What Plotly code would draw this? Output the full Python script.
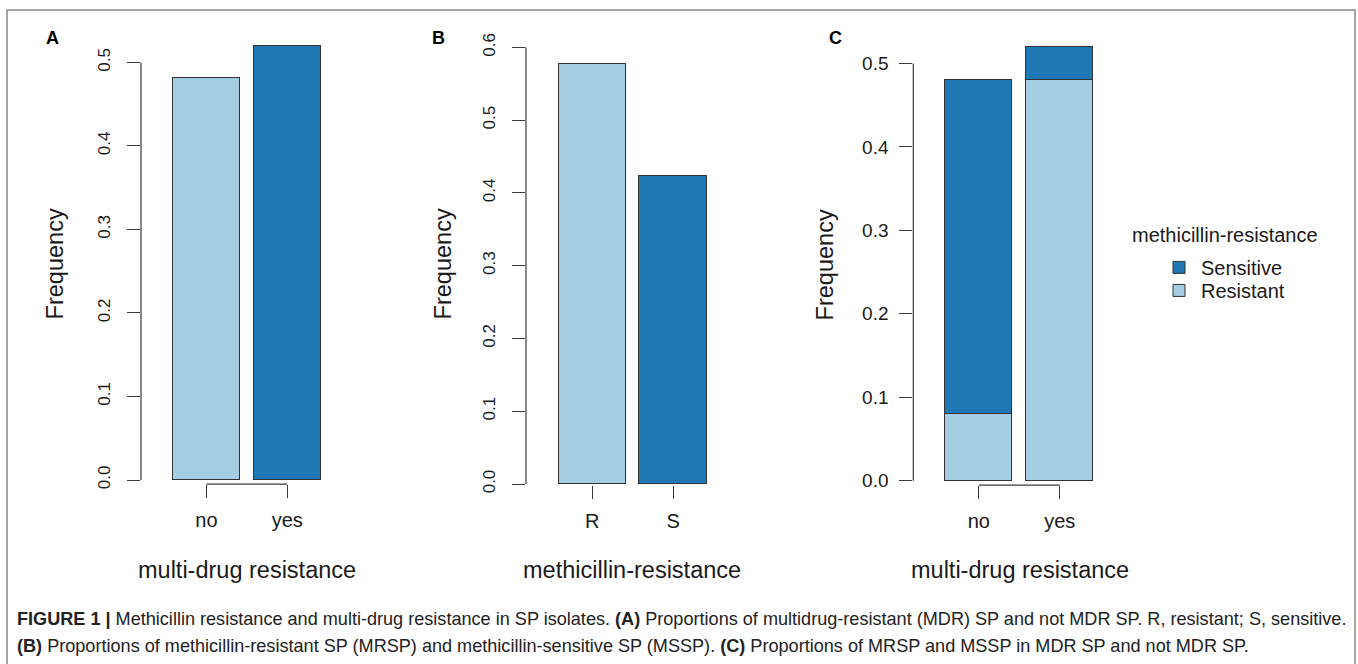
import plotly.graph_objects as go

W, H = 1358, 664          # reference picture size (design coordinates)
FIG_H = 674               # figure height used for drawing

# ---------------- data ----------------
mdr_categories = ["no", "yes"]
mdr_freq = [0.481, 0.519]

meth_categories = ["R", "S"]
meth_freq = [0.577, 0.423]

c_categories = ["no", "yes"]
c_resistant = [0.08, 0.48]
c_sensitive = [0.40, 0.04]

ticks_a = [0.0, 0.1, 0.2, 0.3, 0.4, 0.5]
ticks_b = [0.0, 0.1, 0.2, 0.3, 0.4, 0.5, 0.6]
ticks_c = [0.0, 0.1, 0.2, 0.3, 0.4, 0.5]

bar_pos = [0.7, 1.9]  # R barplot default centres (width 1, space 0.2)

LIGHT = "#A6CEE3"
DARK = "#1F78B4"
EDGE = "#333333"
AXC = "#3a3a3a"
FONT = "Liberation Sans, Arial, sans-serif"
TXT = "#1a1a1a"


def fx(p):
    return p / W


def fy(p):
    return 1 - p / H


# panel geometry (pixels)
panels = {
    "A": dict(x0=159.2, xu=67.4, y0=479.3, yu=834.0, left=141.0, right=345.0, bottom=483.3, top=20.0),
    "B": dict(x0=545.2, xu=67.3, y0=483.3, yu=726.7, left=526.0, right=730.0, bottom=483.8, top=20.0),
    "C": dict(x0=931.55, xu=67.5, y0=480.0, yu=833.3, left=913.3, right=1110.0, bottom=484.3, top=20.0),
}

fig = go.Figure()

# Panel A
fig.add_trace(go.Bar(x=bar_pos, y=mdr_freq, width=1.0, marker=dict(color=[LIGHT, DARK], line=dict(color=EDGE, width=1)),
                     showlegend=False, xaxis="x", yaxis="y", hoverinfo="skip"))
# Panel B
fig.add_trace(go.Bar(x=bar_pos, y=meth_freq, width=1.0, marker=dict(color=[LIGHT, DARK], line=dict(color=EDGE, width=1)),
                     showlegend=False, xaxis="x2", yaxis="y2", hoverinfo="skip"))
# Panel C (stacked)
fig.add_trace(go.Bar(x=bar_pos, y=c_resistant, width=1.0, name="Resistant",
                     marker=dict(color=LIGHT, line=dict(color=EDGE, width=1)),
                     xaxis="x3", yaxis="y3", hoverinfo="skip", legend="legend2"))
fig.add_trace(go.Bar(x=bar_pos, y=c_sensitive, width=1.0, name="Sensitive",
                     marker=dict(color=DARK, line=dict(color=EDGE, width=1)),
                     xaxis="x3", yaxis="y3", hoverinfo="skip", legend="legend"))

leg_common = dict(xanchor="left", yanchor="middle", font=dict(size=20, family=FONT, color=TXT),
                  bgcolor="rgba(0,0,0,0)", itemclick=False, itemdoubleclick=False, itemwidth=34)

layout = dict(
    width=W, height=FIG_H, margin=dict(l=0, r=0, t=0, b=0),
    paper_bgcolor="white", plot_bgcolor="white",
    barmode="stack", bargap=0,
    font=dict(family=FONT, color=TXT),
    showlegend=True,
    legend=dict(x=fx(1157), y=fy(267), **leg_common),
    legend2=dict(x=fx(1157), y=fy(290), **leg_common),
)

shapes = []
annotations = []
specs = [("A", "", mdr_categories, ticks_a, True, 17),
         ("B", "2", meth_categories, ticks_b, False, 17),
         ("C", "3", c_categories, ticks_c, True, 19)]

for key, sfx, cats, yt, bracket, tfs in specs:
    g = panels[key]
    xr = [(g["left"] - g["x0"]) / g["xu"], (g["right"] - g["x0"]) / g["xu"]]
    yr = [-(g["bottom"] - g["y0"]) / g["yu"], (g["y0"] - g["top"]) / g["yu"]]
    rotated = key != "C"
    layout["xaxis" + sfx] = dict(
        domain=[fx(g["left"]), fx(g["right"])], range=xr, anchor="y" + sfx,
        showgrid=False, zeroline=False, showline=False,
        tickmode="array", tickvals=bar_pos, ticktext=cats,
        ticks="outside", ticklen=13, tickwidth=1.2, tickcolor=AXC,
        tickfont=dict(size=20, family=FONT, color=TXT), ticklabelstandoff=5,
        fixedrange=True,
    )
    layout["yaxis" + sfx] = dict(
        domain=[fy(g["bottom"]), fy(g["top"])], range=yr, anchor="x" + sfx,
        showgrid=False, zeroline=False, showline=False,
        tickmode="array", tickvals=yt, ticktext=[f"{v:.1f}" for v in yt],
        ticks="outside", ticklen=13, tickwidth=1.2, tickcolor=AXC,
        tickangle=-90 if rotated else 0,
        tickfont=dict(size=tfs, family=FONT, color=TXT),
        ticklabelstandoff=10 if rotated else 7,
        fixedrange=True,
    )
    # y axis line from 0 to the last tick
    shapes.append(dict(type="line", xref="paper", yref="paper",
                       x0=fx(g["left"]), x1=fx(g["left"]),
                       y0=fy(g["y0"]), y1=fy(g["y0"] - max(yt) * g["yu"]),
                       line=dict(color=AXC, width=1.2)))
    if bracket:
        shapes.append(dict(type="line", xref="paper", yref="paper",
                           x0=fx(g["x0"] + bar_pos[0] * g["xu"]), x1=fx(g["x0"] + bar_pos[-1] * g["xu"]),
                           y0=fy(g["bottom"]), y1=fy(g["bottom"]),
                           line=dict(color=AXC, width=1.2)))

# axis titles & panel letters
title_info = [
    ("A", 55, 247, "multi-drug resistance", 52.5),
    ("B", 443, 632, "methicillin-resistance", 438.5),
    ("C", 825, 1020, "multi-drug resistance", 835.5),
]
for letter, yx, xx, xtitle, lx in title_info:
    annotations.append(dict(text="Frequency", xref="paper", yref="paper", x=fx(yx), y=fy(264),
                            textangle=-90, showarrow=False, xanchor="center", yanchor="middle",
                            font=dict(size=23.5, family=FONT, color=TXT)))
    annotations.append(dict(text=xtitle, xref="paper", yref="paper", x=fx(xx), y=fy(569),
                            showarrow=False, xanchor="center", yanchor="middle",
                            font=dict(size=23.5, family=FONT, color=TXT)))
    annotations.append(dict(text=f"<b>{letter}</b>", xref="paper", yref="paper", x=fx(lx), y=fy(38),
                            showarrow=False, xanchor="center", yanchor="middle",
                            font=dict(size=18, family=FONT, color="#000000")))

# legend title
annotations.append(dict(text="methicillin-resistance", xref="paper", yref="paper", x=fx(1225), y=fy(235),
                        showarrow=False, xanchor="center", yanchor="middle",
                        font=dict(size=20, family=FONT, color=TXT)))

# caption
cap1 = ("<b>FIGURE 1 |</b> Methicillin resistance and multi-drug resistance in SP isolates. "
        "<b>(A)</b> Proportions of multidrug-resistant (MDR) SP and not MDR SP. R, resistant; S, sensitive.")
cap2 = ("<b>(B)</b> Proportions of methicillin-resistant SP (MRSP) and methicillin-sensitive SP (MSSP). "
        "<b>(C)</b> Proportions of MRSP and MSSP in MDR SP and not MDR SP.")
for txt, yy in [(cap1, 618), (cap2, 645)]:
    annotations.append(dict(text=txt, xref="paper", yref="paper", x=fx(15), y=fy(yy),
                            showarrow=False, xanchor="left", yanchor="middle",
                            font=dict(size=18.1, family=FONT, color="#222222")))

# outer frame
shapes.append(dict(type="rect", xref="paper", yref="paper", x0=fx(7), x1=fx(1355), y0=fy(700), y1=fy(10),
                   line=dict(color="#8a8a8a", width=1.5), fillcolor="rgba(0,0,0,0)", layer="below"))

layout["shapes"] = shapes
layout["annotations"] = annotations
fig.update_layout(**layout)

page_fix = ("var s=document.createElement('style');"
            "s.textContent='html,body{margin:0;padding:0;overflow:hidden;}';"
            "document.head.appendChild(s);")
fig.write_html("out.html", config={"displayModeBar": False}, post_script=page_fix)
